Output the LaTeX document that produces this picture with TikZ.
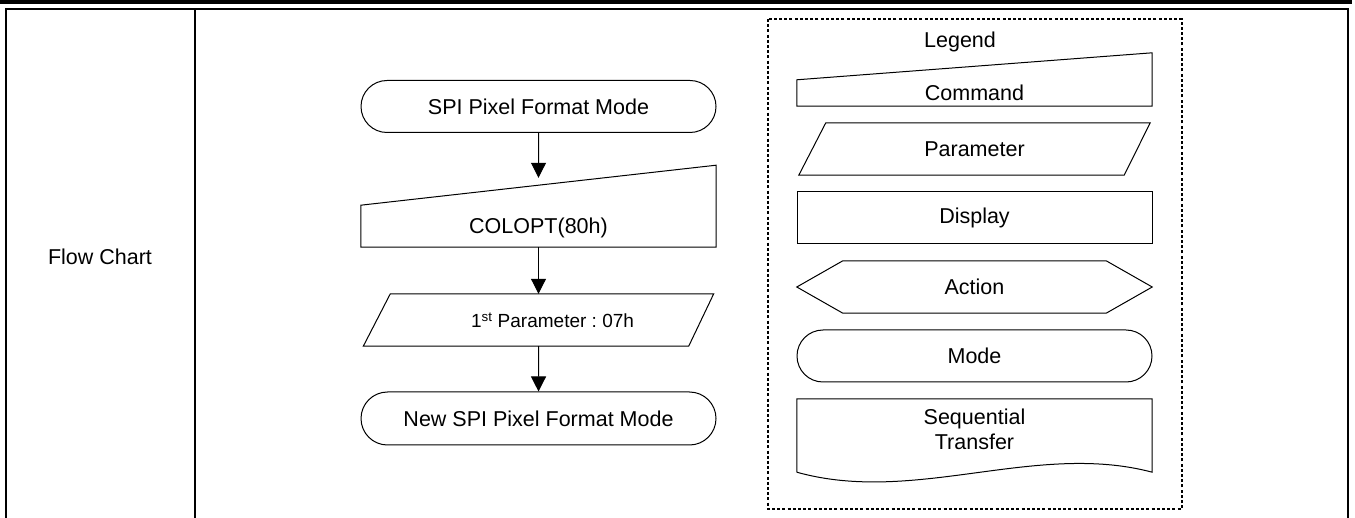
\documentclass[tikz,border=0pt]{standalone}
\usepackage{fontspec}
\setmainfont{Liberation Sans}
\usetikzlibrary{arrows.meta,positioning,shapes.misc,calc}

\begin{document}
\begin{tikzpicture}[
  x=1pt, y=-1pt,
  font=\fontsize{21.5}{25}\selectfont\frenchspacing,
  ln/.style={line width=1pt},
  fr/.style={line width=1.8pt},
  mode/.style={draw, ln, rounded rectangle, minimum width=355pt,
    minimum height=52pt, inner sep=0pt},
  box/.style={minimum width=355pt, inner sep=0pt},
  d/.style={-{Triangle[length=15pt,width=15pt]}, ln},
  lgdframe/.style={line width=1.5pt, dash pattern=on 3pt off 2.2pt}
]
\useasboundingbox (0,0) rectangle (1355,518);
\fill (0,0) rectangle (1352,4.5);
\draw[fr] (6,518) -- (6,9) -- (1348,9) -- (1348,518);
\draw[fr] (195,9) -- (195,518);
\node (title) at (100,257) {Flow Chart};

\node[mode] (start) at (538.5,106.5) {SPI Pixel Format Mode};
\node[box, minimum height=38pt] (cmd) at (538.5,228) {COLOPT(80h)};
\node[box, minimum width=350pt, minimum height=52pt,
  label={[xshift=14pt, font=\fontsize{19}{22}\selectfont\frenchspacing]center:1\textsuperscript{st} Parameter : 07h}] (par) at (538.5,320) {};
\node[mode, minimum height=53pt] (new) at (538.5,418.5) {New SPI Pixel Format Mode};
\draw[ln] (cmd.south west) -- ++(0,-42) -- ($(cmd.south east)+(0,-82)$) -- (cmd.south east) -- cycle;
\draw[ln] ($(par.north west)+(27,0)$) -- (par.north east) -- ($(par.south east)+(-25,0)$)
  -- (par.south west) -- cycle;
\draw[d, shorten >=31pt] (start) -- (cmd);
\draw[d] (cmd) -- (par);
\draw[d] (par) -- (new);

\draw[lgdframe] (768,19) rectangle (1182,509);
\node (lgd) at (960,42) {Legend};
\node[box, minimum height=26pt] (lcmd) at (974.5,93) {Command};
\node[box, minimum width=351pt, minimum height=52pt] (lpar) at (974.5,149) {Parameter};
\node[box, draw, ln, minimum height=52pt] (ldisp) at (974.5,218) {Display};
\node[box, minimum height=52pt] (lact) at (974.5,287) {Action};
\node[mode] (lmode) at (974.5,356) {Mode};
\node[box, minimum height=73pt, align=center, text depth=12pt] (lseq) at (974.5,435.5) {Sequential\\Transfer};
\draw[ln] (lcmd.south west) -- (lcmd.north west) -- ($(lcmd.north east)+(0,-27)$) -- (lcmd.south east) -- cycle;
\draw[ln] ($(lpar.north west)+(27,0)$) -- (lpar.north east) -- ($(lpar.south east)+(-26,0)$)
  -- (lpar.south west) -- cycle;
\draw[ln] (lact.west) -- ([xshift=46pt]lact.north west) -- ([xshift=-46pt]lact.north east)
  -- (lact.east) -- ([xshift=-46pt]lact.south east) -- ([xshift=46pt]lact.south west) -- cycle;
\draw[ln] (lseq.south west) -- (lseq.north west) -- (lseq.north east) -- (lseq.south east)
  .. controls ($(lseq.south east)+(-117,-31)$) and ($(lseq.south west)+(118,33)$) .. (lseq.south west);
\end{tikzpicture}
\end{document}
